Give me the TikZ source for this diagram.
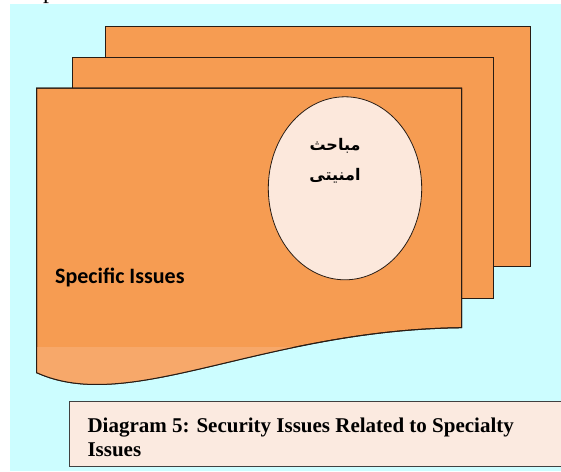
\documentclass[tikz,border=0pt]{standalone}
\usepackage{fontspec}
\setmainfont{Liberation Serif}
\newfontfamily\calib{Carlito}
\newfontfamily\arabicfont[Script=Arabic]{DejaVu Sans}
\TeXXeTstate=1
\definecolor{bgcyan}{RGB}{204,253,255}
\definecolor{sheet}{RGB}{246,156,82}
\definecolor{sheetlight}{RGB}{247,168,106}
\definecolor{ovalfill}{RGB}{252,232,220}
\definecolor{capfill}{RGB}{251,234,224}
\definecolor{edge}{RGB}{40,28,20}
\tikzset{
  sheetbox/.style={fill=sheet, draw=edge, line width=1pt},
  ovalbox/.style={ellipse, fill=ovalfill, draw=edge, line width=0.8pt, inner sep=0pt},
  capbox/.style={fill=capfill, draw=black!75, line width=1pt},
  artext/.style={font=\arabicfont\bfseries\fontsize{16}{18}\selectfont, inner sep=0pt},
}
\usetikzlibrary{shapes.geometric}
\begin{document}
\begin{tikzpicture}[x=1pt,y=-1pt]
\useasboundingbox (0,0) rectangle (561,471);
\fill[white] (0,0) rectangle (561,471);
% fragment of text above the picture
\begin{scope}
\clip (0,0) rectangle (561,4);
\node[anchor=base west, inner sep=0pt, font=\fontsize{24}{28}\selectfont] (frag) at (43,-1.5) {p};
\end{scope}
\fill[bgcyan] (10,4) rectangle (561,471);
% back sheets
\draw[sheetbox] (105,26) rectangle (530.7,266.7);
\draw[sheetbox] (72,57) rectangle (493.7,298.3);
% front document shape
\path[sheetbox] (36.7,88) -- (461.7,88) -- (461.7,327.7)
  .. controls (260,330) and (130,415) .. (36.7,372.7) -- cycle;
\begin{scope}
\clip (36.7,88) -- (461.7,88) -- (461.7,327.7)
  .. controls (260,330) and (130,415) .. (36.7,372.7) -- cycle;
\fill[sheetlight] (30,347) rectangle (470,420);
\end{scope}
\draw[edge, line width=1pt] (36.7,88) -- (461.7,88) -- (461.7,327.7)
  .. controls (260,330) and (130,415) .. (36.7,372.7) -- cycle;
% oval
\node[ovalbox, minimum width=153.4pt, minimum height=183pt] (oval) at (345,188.3) {};
\node[artext] (ar1) at (335,146) {\beginR مباحث\endR};
\node[artext] (ar2) at (335,176) {\beginR امنیتی\endR};
% label
\node[anchor=base west, inner sep=0pt, font=\calib\bfseries\fontsize{22}{26}\selectfont] (spec) at (55,283.3) {Specific Issues};
% caption
\draw[capbox] (69,401.7) rectangle (570,466.7);
\node[anchor=base west, inner sep=0pt, font=\bfseries\fontsize{21}{24}\selectfont] (cap1) at (87.3,432.3) {Diagram 5: Security Issues Related to Specialty};
\node[anchor=base west, inner sep=0pt, font=\bfseries\fontsize{21}{24}\selectfont] (cap2) at (87.3,456.7) {Issues};
\end{tikzpicture}
\end{document}
